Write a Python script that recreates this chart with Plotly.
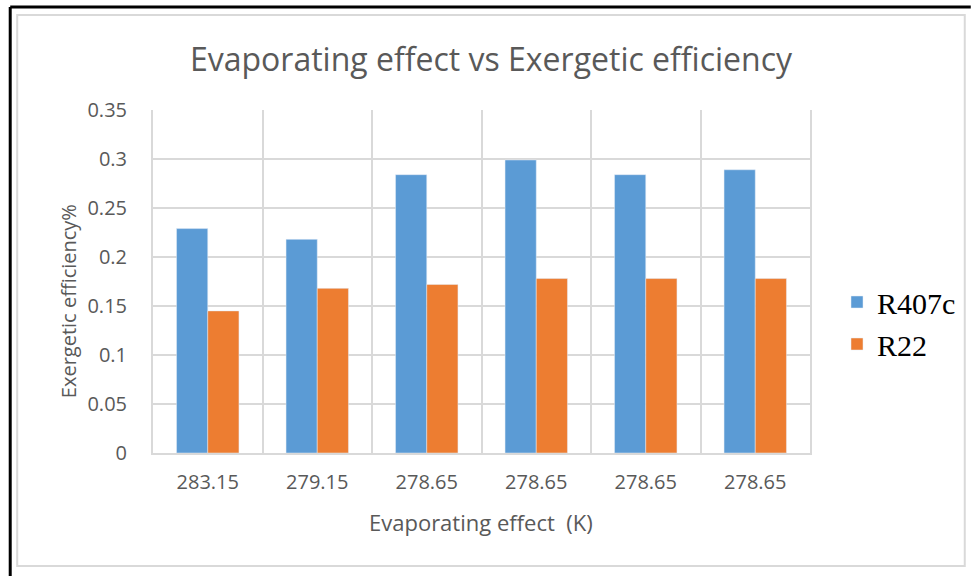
import plotly.graph_objects as go

# Evaporating temperatures (K) and exergetic efficiency per refrigerant
categories = ["283.15", "279.15", "278.65", "278.65", "278.65", "278.65"]
r407c = [0.229, 0.218, 0.284, 0.299, 0.284, 0.289]
r22 = [0.145, 0.168, 0.172, 0.178, 0.178, 0.178]

positions = list(range(len(categories)))

W, H = 972, 576
L, R, T, B = 153, 161, 110, 123
PW, PH = W - L - R, H - T - B


def px(xp):
    return (xp - L) / PW


def py(yp):
    return (H - B - yp) / PH


grid = "#d9d9d9"
txt = "#595959"
base_font = "'Open Sans', sans-serif"

fig = go.Figure()
fig.add_trace(go.Bar(x=positions, y=r407c, name="R407c", marker_color="#5B9BD5",
                     legendgroup="a"))
fig.add_trace(go.Bar(x=positions, y=r22, name="R22", marker_color="#ED7D31",
                     legendgroup="b"))

fig.update_layout(
    width=W, height=H,
    margin=dict(l=L, r=R, t=T, b=B),
    paper_bgcolor="white", plot_bgcolor="white",
    barmode="group", bargap=0.43, bargroupgap=0,
    title=dict(text="Evaporating effect vs Exergetic efficiency",
               x=(491) / W, xref="container", xanchor="center",
               y=1 - 60 / H, yref="container", yanchor="middle",
               font=dict(family=base_font, size=32, color=txt)),
    legend=dict(x=px(837), y=py(276), xanchor="left", yanchor="top",
                font=dict(family="'Liberation Serif', 'Times New Roman', serif",
                          size=30, color="black"),
                tracegroupgap=0, traceorder="grouped",
                bgcolor="rgba(0,0,0,0)"),
    font=dict(family=base_font, color=txt),
    showlegend=True,
)

fig.update_xaxes(
    range=[-0.5, len(categories) - 0.5],
    tickmode="array", tickvals=positions, ticktext=categories,
    tickfont=dict(size=20, color=txt),
    showgrid=False, zeroline=False,
    ticks="", ticklabelstandoff=10,
    showline=True, linecolor=grid, linewidth=2,
    minor=dict(tickvals=[p - 0.5 for p in positions] + [len(categories) - 0.5],
               showgrid=True, gridcolor=grid, gridwidth=2, ticks=""),
    fixedrange=True,
)

fig.update_yaxes(
    range=[0, 0.35], tickmode="array",
    tickvals=[0, 0.05, 0.1, 0.15, 0.2, 0.25, 0.3, 0.35],
    ticktext=["0", "0.05", "0.1", "0.15", "0.2", "0.25", "0.3", "0.35"],
    tickfont=dict(size=20, color=txt),
    showgrid=True, gridcolor=grid, gridwidth=2, zeroline=False,
    ticks="", ticklabelstandoff=20,
    showline=True, linecolor=grid, linewidth=2, mirror=True,
    fixedrange=True,
)

# axis titles
fig.add_annotation(text="Evaporating effect  (K)", xref="paper", yref="paper",
                   x=px(481), y=py(522), xanchor="center", yanchor="middle",
                   showarrow=False,
                   font=dict(family=base_font, size=22, color=txt))
fig.add_annotation(text="Exergetic efficiency%", xref="paper", yref="paper",
                   x=px(68), y=py(301), xanchor="center", yanchor="middle",
                   showarrow=False, textangle=-90,
                   font=dict(family=base_font, size=20, color=txt))

# chart frame: inner light border and outer black edges
fig.add_shape(type="rect", xref="paper", yref="paper",
              x0=px(17), x1=px(966), y0=py(566), y1=py(15),
              line=dict(color=grid, width=2), layer="below")
fig.add_shape(type="line", xref="paper", yref="paper",
              x0=px(10), x1=px(972), y0=py(7), y1=py(7),
              line=dict(color="black", width=3))
fig.add_shape(type="line", xref="paper", yref="paper",
              x0=px(10), x1=px(10), y0=py(7), y1=py(576),
              line=dict(color="black", width=3))

fig.write_html("out.html")
